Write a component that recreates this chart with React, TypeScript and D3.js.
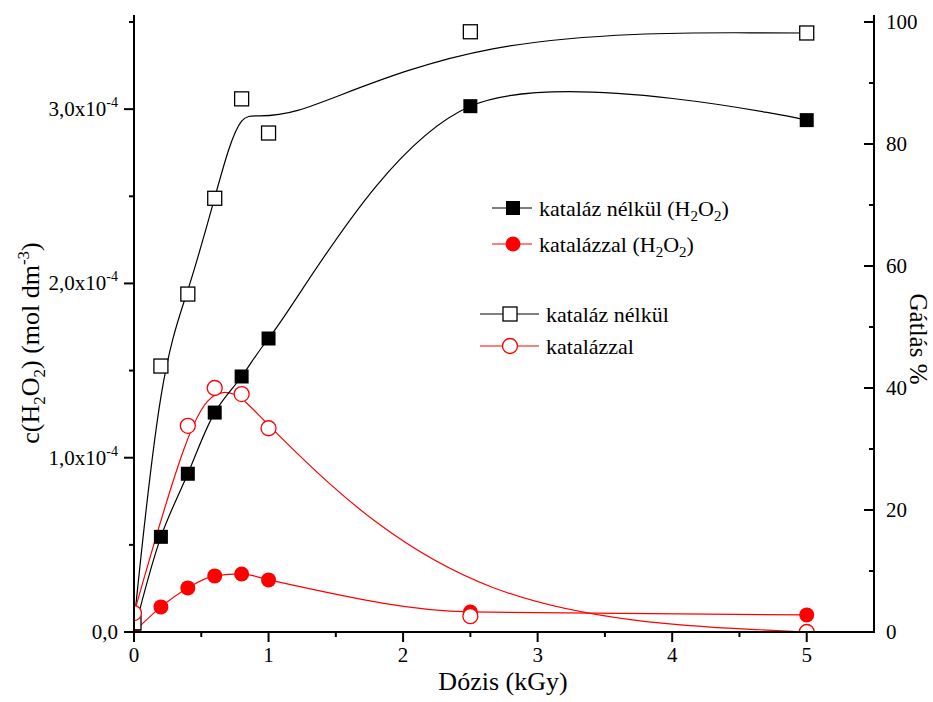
import React, { useEffect, useRef } from 'react';
import * as d3 from 'd3';

// dose values (kGy)
const doses = [0, 0.2, 0.4, 0.6, 0.8, 1, 2.5, 5];
// c(H2O2), mol dm-3 (left axis)
const h2o2Without = [0, 0.546e-4, 0.908e-4, 1.259e-4, 1.466e-4, 1.684e-4, 3.017e-4, 2.937e-4];
const h2o2With = [0, 0.144e-4, 0.253e-4, 0.322e-4, 0.333e-4, 0.299e-4, 0.115e-4, 0.098e-4];
// inhibition % (right axis)
const inhibWithoutDoses = [0, 0.2, 0.4, 0.6, 0.8, 1, 2.5, 5];
const inhibWithout = [1.5, 43.6, 55.4, 71.1, 87.4, 81.8, 98.4, 98.2];
const inhibWithDoses = [0, 0.4, 0.6, 0.8, 1, 2.5, 5];
const inhibWith = [3.1, 33.8, 40.0, 39.0, 33.4, 2.6, 0];

const xTicks = [0, 1, 2, 3, 4, 5];
const leftTicks = [0, 1e-4, 2e-4, 3e-4];
const leftTickLabels = ['0,0', '1,0x10', '2,0x10', '3,0x10'];
const rightTicks = [0, 20, 40, 60, 80, 100];

const W = 933;
const H = 702;
const FONT = "'Liberation Serif', 'DejaVu Serif', 'Times New Roman', serif";

type Pt = { x: number; y: number };

const App = () => {
  const svgRef = useRef<SVGSVGElement | null>(null);

  useEffect(() => {
    document.body.style.margin = '0';
    const svg = d3.select(svgRef.current);
    svg.selectAll('*').remove();

    const left = 134, right = 874, top = 22, bottom = 632;

    const x = d3.scaleLinear().domain([0, 5.5]).range([left, right]);
    const yL = d3.scaleLinear().domain([0, 3.5e-4]).range([bottom, top]);
    const yR = d3.scaleLinear().domain([0, 100]).range([bottom, top]);

    svg.append('defs').append('clipPath').attr('id', 'plotclip')
      .append('rect').attr('x', left).attr('y', 0).attr('width', right - left).attr('height', bottom);

    const plot = svg.append('g').attr('clip-path', 'url(#plotclip)');

    const sqWithout: Pt[] = doses.map((d, i) => ({ x: x(d), y: yL(h2o2Without[i]) }));
    const ciWith: Pt[] = doses.map((d, i) => ({ x: x(d), y: yL(h2o2With[i]) }));
    const sqOpen: Pt[] = inhibWithoutDoses.map((d, i) => ({ x: x(d), y: yR(inhibWithout[i]) }));
    const ciOpen: Pt[] = inhibWithDoses.map((d, i) => ({ x: x(d), y: yR(inhibWith[i]) }));

    const line = (curve: d3.CurveFactory) => d3.line<Pt>().x(d => d.x).y(d => d.y).curve(curve);

    // curves
    plot.append('path').attr('d', line(d3.curveBasis)(sqOpen)).attr('fill', 'none').attr('stroke', '#000').attr('stroke-width', 1.2);
    plot.append('path').attr('d', line(d3.curveBasis)(ciOpen)).attr('fill', 'none').attr('stroke', '#ff0000').attr('stroke-width', 1.2);
    plot.append('path').attr('d', line(d3.curveCatmullRom.alpha(0.5))(sqWithout)).attr('fill', 'none').attr('stroke', '#000').attr('stroke-width', 1.2);
    plot.append('path').attr('d', line(d3.curveMonotoneX)(ciWith)).attr('fill', 'none').attr('stroke', '#ff0000').attr('stroke-width', 1.2);

    const sq = 14;
    const r = 7.5;

    // markers
    plot.selectAll('.fsq').data(sqWithout).enter().append('rect')
      .attr('x', d => d.x - sq / 2).attr('y', d => d.y - sq / 2).attr('width', sq).attr('height', sq)
      .attr('fill', '#000');
    plot.selectAll('.fci').data(ciWith).enter().append('circle')
      .attr('cx', d => d.x).attr('cy', d => d.y).attr('r', r).attr('fill', '#ff0000');
    plot.selectAll('.osq').data(sqOpen).enter().append('rect')
      .attr('x', d => d.x - sq / 2).attr('y', d => d.y - sq / 2).attr('width', sq).attr('height', sq)
      .attr('fill', '#fff').attr('stroke', '#000').attr('stroke-width', 1.3);
    plot.selectAll('.oci').data(ciOpen).enter().append('circle')
      .attr('cx', d => d.x).attr('cy', d => d.y).attr('r', r).attr('fill', '#fff')
      .attr('stroke', '#ff0000').attr('stroke-width', 1.3);

    // axes
    const axes = svg.append('g').attr('stroke', '#000').attr('stroke-width', 2);
    axes.append('line').attr('x1', left).attr('x2', left).attr('y1', top - 7).attr('y2', bottom);
    axes.append('line').attr('x1', right).attr('x2', right).attr('y1', top - 7).attr('y2', bottom);
    axes.append('line').attr('x1', left - 1).attr('x2', right + 1).attr('y1', bottom).attr('y2', bottom);

    const major = 10, minor = 5;
    // bottom ticks
    xTicks.forEach(t => {
      axes.append('line').attr('x1', x(t)).attr('x2', x(t)).attr('y1', bottom).attr('y2', bottom + major);
      if (t < 5) axes.append('line').attr('x1', x(t + 0.5)).attr('x2', x(t + 0.5)).attr('y1', bottom).attr('y2', bottom + minor);
    });
    // left ticks
    leftTicks.forEach(t => {
      axes.append('line').attr('x1', left - major).attr('x2', left).attr('y1', yL(t)).attr('y2', yL(t));
      axes.append('line').attr('x1', left - minor).attr('x2', left).attr('y1', yL(t + 0.5e-4)).attr('y2', yL(t + 0.5e-4));
    });
    // right ticks (inward)
    rightTicks.forEach(t => {
      axes.append('line').attr('x1', right - major).attr('x2', right).attr('y1', yR(t)).attr('y2', yR(t));
      if (t < 100) axes.append('line').attr('x1', right - minor).attr('x2', right).attr('y1', yR(t + 10)).attr('y2', yR(t + 10));
    });

    const txt = svg.append('g').style('font-family', FONT).attr('fill', '#000');

    xTicks.forEach(t => {
      txt.append('text').attr('x', x(t)).attr('y', bottom + 30).attr('text-anchor', 'middle')
        .attr('font-size', 21).text(String(t));
    });

    leftTicks.forEach((t, i) => {
      const el = txt.append('text').attr('x', left - 16).attr('y', yL(t) + 7).attr('text-anchor', 'end')
        .attr('font-size', 21);
      el.append('tspan').text(leftTickLabels[i]);
      if (i > 0) el.append('tspan').attr('font-size', 14).attr('dy', -9).text('-4');
    });

    rightTicks.forEach(t => {
      txt.append('text').attr('x', right + 12).attr('y', yR(t) + 7).attr('font-size', 21).text(String(t));
    });

    // axis titles
    txt.append('text').attr('x', 503).attr('y', 690).attr('text-anchor', 'middle')
      .attr('font-size', 26).text('Dózis (kGy)');

    const yt = txt.append('text').attr('transform', 'translate(39,343) rotate(-90)')
      .attr('text-anchor', 'middle').attr('font-size', 26);
    yt.append('tspan').text('c(H');
    yt.append('tspan').attr('font-size', 17).attr('dy', 6).text('2');
    yt.append('tspan').attr('dy', -6).text('O');
    yt.append('tspan').attr('font-size', 17).attr('dy', 6).text('2');
    yt.append('tspan').attr('dy', -6).text(')  (mol dm');
    yt.append('tspan').attr('font-size', 17).attr('dy', -10).text('-3');
    yt.append('tspan').attr('dy', 10).text(')');

    txt.append('text').attr('transform', 'translate(910,339) rotate(90)')
      .attr('text-anchor', 'middle').attr('font-size', 25).text('Gátlás %');

    // legend
    const lg = svg.append('g').style('font-family', FONT);
    const subLabel = (xx: number, yy: number, base: string) => {
      const t = lg.append('text').attr('x', xx).attr('y', yy).attr('font-size', 22);
      t.append('tspan').text(base + ' (H');
      t.append('tspan').attr('font-size', 15).attr('dy', 5).text('2');
      t.append('tspan').attr('dy', -5).text('O');
      t.append('tspan').attr('font-size', 15).attr('dy', 5).text('2');
      t.append('tspan').attr('dy', -5).text(')');
    };

    const ly1 = 208, ly2 = 244, ly3 = 314, ly4 = 346;
    lg.append('line').attr('x1', 492).attr('x2', 532).attr('y1', ly1).attr('y2', ly1).attr('stroke', '#000').attr('stroke-width', 1.2);
    lg.append('rect').attr('x', 513 - sq / 2).attr('y', ly1 - sq / 2).attr('width', sq).attr('height', sq).attr('fill', '#000');
    subLabel(539, ly1 + 8, 'kataláz nélkül');

    lg.append('line').attr('x1', 492).attr('x2', 532).attr('y1', ly2).attr('y2', ly2).attr('stroke', '#ff0000').attr('stroke-width', 1.2);
    lg.append('circle').attr('cx', 513).attr('cy', ly2).attr('r', r).attr('fill', '#ff0000');
    subLabel(539, ly2 + 8, 'katalázzal');

    lg.append('line').attr('x1', 480).attr('x2', 539).attr('y1', ly3).attr('y2', ly3).attr('stroke', '#000').attr('stroke-width', 1.2);
    lg.append('rect').attr('x', 510 - sq / 2).attr('y', ly3 - sq / 2).attr('width', sq).attr('height', sq)
      .attr('fill', '#fff').attr('stroke', '#000').attr('stroke-width', 1.3);
    lg.append('text').attr('x', 546).attr('y', ly3 + 8).attr('font-size', 22).text('kataláz nélkül');

    lg.append('line').attr('x1', 480).attr('x2', 539).attr('y1', ly4).attr('y2', ly4).attr('stroke', '#ff0000').attr('stroke-width', 1.2);
    lg.append('circle').attr('cx', 510).attr('cy', ly4).attr('r', r).attr('fill', '#fff')
      .attr('stroke', '#ff0000').attr('stroke-width', 1.3);
    lg.append('text').attr('x', 546).attr('y', ly4 + 8).attr('font-size', 22).text('katalázzal');
  }, []);

  return (
    <svg ref={svgRef} width={W} height={H} style={{ display: 'block', background: '#fff' }}></svg>
  );
};

export default App;
